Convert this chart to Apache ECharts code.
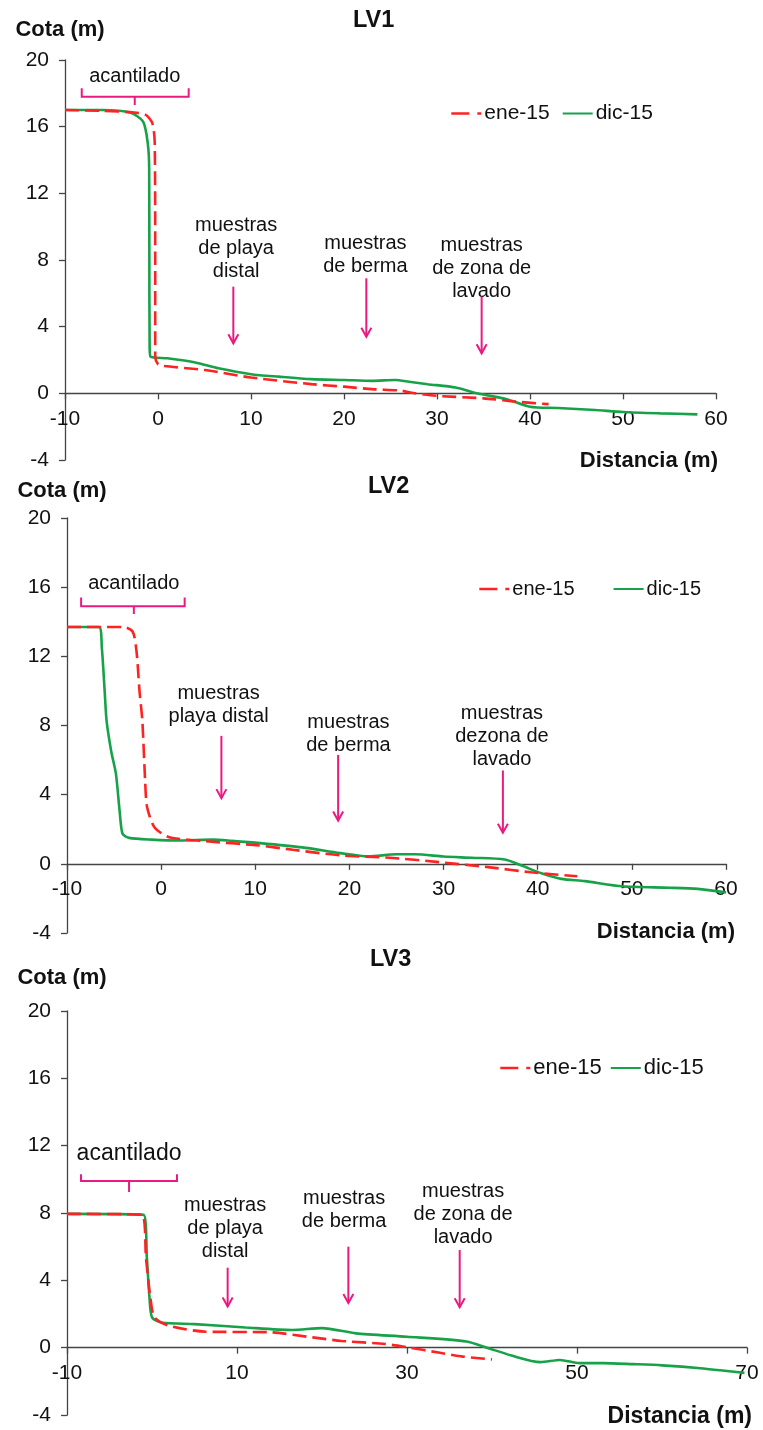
<!DOCTYPE html>
<html>
<head>
<meta charset="utf-8">
<script src="https://cdn.jsdelivr.net/npm/echarts@6/dist/echarts.min.js"></script>
<style>html,body{margin:0;padding:0;background:#fff;}#c{width:763px;height:1430px;}</style>
</head>
<body>
<div id="c"></div>
<script>
// ---------------- DATA ----------------
const seriesNames = ['ene-15', 'dic-15'];
const panelTitles = ['LV1', 'LV2', 'LV3'];
const xTicks = [[-10, 60, 10], [-10, 60, 10], [-10, 70, 20]];   // min, max, interval
const yTicks = [-4, 20, 4];

const lv1_ene = [[-10,17.0],[-6,16.95],[-2.6,16.85],[-1.3,16.7],[-0.6,16.2],[-0.35,15],[-0.3,8],[-0.3,2.2],[0,1.75],[0.5,1.65],[5,1.4],[10,0.95],[16.5,0.55],[20,0.4],[23,0.25],[26,0.17],[27.5,0.02],[30,-0.15],[35,-0.3],[38.5,-0.5],[42,-0.65]];
const lv1_dic = [[-10,17.0],[-6,17.0],[-3,16.85],[-1.6,16.3],[-1.1,15],[-0.95,13.5],[-0.93,8],[-0.9,2.8],[-0.8,2.2],[1,2.1],[4,1.85],[6.5,1.5],[10,1.15],[13,1.0],[16.5,0.85],[20,0.8],[23,0.75],[25.5,0.8],[27,0.7],[29,0.55],[32,0.35],[34.3,0],[37.5,-0.35],[40,-0.8],[43,-0.88],[47,-1.0],[50,-1.12],[54,-1.2],[58,-1.26]];

const lv2_ene = [[-10,13.7],[-4,13.7],[-3,13.4],[-2.6,12.2],[-2.3,10],[-2.0,8.3],[-1.7,4.8],[-1.5,3.3],[-0.7,2.1],[0.85,1.54],[4.7,1.31],[10.4,1.06],[14,0.81],[19.2,0.48],[24.3,0.35],[29.5,0.1],[34.7,-0.19],[39.3,-0.49],[44.2,-0.72]];
const lv2_dic = [[-10,13.7],[-6.6,13.7],[-6.3,12.5],[-6.0,10],[-5.8,8.3],[-5.3,6.5],[-4.8,5.2],[-4.4,3],[-4.1,1.74],[-3.4,1.5],[-1,1.4],[2,1.35],[5.5,1.4],[7.5,1.33],[10.5,1.2],[15,0.95],[19,0.62],[22,0.43],[25,0.55],[27,0.55],[30,0.42],[33,0.35],[36.5,0.25],[38.3,-0.1],[40.4,-0.55],[42.5,-0.87],[45,-1.0],[49,-1.3],[54,-1.38],[57,-1.45],[60,-1.65]];

const lv3_ene = [[-10,7.95],[-1.2,7.9],[-0.7,5.3],[-0.2,3],[0.3,1.8],[2,1.3],[6.3,0.95],[13.7,0.92],[18.9,0.61],[22.3,0.4],[27.4,0.22],[30.3,0],[33.7,-0.29],[36.6,-0.53],[40,-0.7]];
const lv3_dic = [[-10,7.95],[-1,7.9],[-0.6,5.3],[-0.3,3],[0,1.8],[1.1,1.5],[5,1.4],[11,1.2],[16.5,1.05],[20,1.16],[24,0.85],[30,0.65],[37,0.37],[39.4,0],[42.3,-0.47],[45.7,-0.86],[48,-0.73],[50.3,-0.92],[53,-0.92],[56.6,-0.98],[60,-1.05],[64.5,-1.22],[69.7,-1.5]];

const panelData = [[lv1_ene, lv1_dic], [lv2_ene, lv2_dic], [lv3_ene, lv3_dic]];

const annoTexts = [
  ['muestras\nde playa\ndistal', 'muestras\nde berma', 'muestras\nde zona de\nlavado'],
  ['muestras\nplaya distal', 'muestras\nde berma', 'muestras\ndezona de\nlavado'],
  ['muestras\nde playa\ndistal', 'muestras\nde berma', 'muestras\nde zona de\nlavado']
];
const cliffLabel = 'acantilado';

// ---------------- LAYOUT ----------------
const FONT = "'Liberation Sans', Arial, sans-serif";
const RED = '#ff2222', GREEN = '#17a24a', PINK = '#ea1a80', AXIS = '#444';
const grids = [
  {left: 65, top: 60, width: 651, height: 400, outerBoundsMode: 'none', containLabel: false},
  {left: 67, top: 518, width: 659, height: 415, outerBoundsMode: 'none', containLabel: false},
  {left: 67, top: 1011, width: 680, height: 404, outerBoundsMode: 'none', containLabel: false}
];
const titlePos = [{left: 353, top: 9}, {left: 368, top: 475}, {left: 370, top: 948}];
const yNameGap = [19, 16, 22];
const xNameGap = [2, 9, 5];
const xNameSize = [22, 22, 23];
const legendPos = [
  {left: 450, top: 103, gap: 12, size: 21},
  {left: 478, top: 579, gap: 38, size: 20},
  {left: 499, top: 1057, gap: 8, size: 22}
];
// annotation anchors in data coordinates: [textX, textY, arrowX, arrowTop, arrowBottom]
const annoPos = [
  [[8.4, 8.7, 8.1, 6.4, 3.0], [22.3, 8.3, 22.4, 6.9, 3.4], [34.8, 7.5, 34.8, 5.8, 2.4]],
  [[6.1, 9.2, 6.4, 7.4, 3.8], [19.9, 7.5, 18.8, 6.3, 2.5], [36.2, 7.35, 36.3, 5.4, 1.8]],
  [[8.6, 7.1, 8.9, 4.75, 2.45], [22.6, 8.2, 23.1, 6.0, 2.65], [36.6, 7.9, 36.2, 5.8, 2.4]]
];
// bracket: [x1, x2, xc, yLine, yEnds, yDown, textY, fontSize]
const bracketPos = [
  [-8.2, 3.3, -2.5, 17.8, 18.3, 17.3, 19.0, 20],
  [-8.5, 2.5, -2.9, 14.9, 15.4, 14.45, 16.2, 20],
  [-8.35, 2.94, -2.7, 9.9, 10.3, 9.25, 11.5, 23]
];

const chart = echarts.init(document.getElementById('c'), null, {renderer: 'canvas'});

const option = {
  backgroundColor: '#fff',
  animation: false,
  textStyle: {fontFamily: FONT, color: '#111'},
  title: panelTitles.map((t, i) => ({
    text: t, left: titlePos[i].left, top: titlePos[i].top, padding: 0,
    textStyle: {fontFamily: FONT, fontSize: 23.5, fontWeight: 'bold', color: '#111'}
  })),
  legend: legendPos.map((p, i) => ({
    data: [
      {name: seriesNames[0], lineStyle: {type: [18, 8], width: 2.6}},
      {name: seriesNames[1]}
    ],
    left: p.left, top: p.top, itemGap: p.gap, itemWidth: 30, itemHeight: 14,
    padding: 0, selectedMode: false,
    itemStyle: {opacity: 0},
    textStyle: {fontFamily: FONT, fontSize: p.size, color: '#111', padding: [0, 0, 0, -2]}
  })),
  grid: grids,
  xAxis: grids.map((g, i) => ({
    type: 'value', gridIndex: i, min: xTicks[i][0], max: xTicks[i][1], interval: xTicks[i][2],
    position: 'bottom',
    offset: -g.height * (0 - yTicks[0]) / (yTicks[1] - yTicks[0]),
    name: 'Distancia (m)', nameLocation: 'end', nameGap: xNameGap[i], nameMoveOverlap: false,
    nameTextStyle: {fontFamily: FONT, fontSize: xNameSize[i], fontWeight: 'bold', color: '#111',
      align: 'right', verticalAlign: 'top', lineHeight: xNameSize[i], padding: [57, 0, 0, 0]},
    axisLine: {onZero: false, lineStyle: {color: AXIS, width: 1.3}},
    axisTick: {length: 6, lineStyle: {color: AXIS, width: 1.3}},
    axisLabel: {fontFamily: FONT, fontSize: 21, color: '#111', margin: 15},
    splitLine: {show: false}
  })),
  yAxis: grids.map((g, i) => ({
    type: 'value', gridIndex: i, min: yTicks[0], max: yTicks[1], interval: yTicks[2],
    name: 'Cota (m)', nameLocation: 'end', nameGap: yNameGap[i], nameMoveOverlap: false,
    nameTextStyle: {fontFamily: FONT, fontSize: 22, fontWeight: 'bold', color: '#111', padding: [0, 10, 0, 0]},
    axisLine: {show: true, onZero: false, lineStyle: {color: AXIS, width: 1.3}},
    axisTick: {show: true, length: 6, lineStyle: {color: AXIS, width: 1.3}},
    axisLabel: {fontFamily: FONT, fontSize: 21, color: '#111', margin: 16},
    splitLine: {show: false}
  })),
  series: []
};

panelData.forEach((pair, i) => {
  option.series.push({
    name: seriesNames[0], type: 'line', xAxisIndex: i, yAxisIndex: i, data: pair[0],
    showSymbol: false, symbol: 'none', smooth: 0.25, z: 3,
    lineStyle: {color: RED, width: 2.6, type: [14, 6]}, itemStyle: {color: RED}
  });
  option.series.push({
    name: seriesNames[1], type: 'line', xAxisIndex: i, yAxisIndex: i, data: pair[1],
    showSymbol: false, symbol: 'none', smooth: 0.25, z: 2,
    lineStyle: {color: GREEN, width: 2.6}, itemStyle: {color: GREEN}
  });
});

chart.setOption(option);

// ---------------- ANNOTATIONS ----------------
function P(i, x, y) { return chart.convertToPixel({gridIndex: i}, [x, y]); }
const graphics = [];
for (let i = 0; i < 3; i++) {
  annoPos[i].forEach((a, k) => {
    const t = P(i, a[0], a[1]);
    graphics.push({type: 'text', x: t[0], y: t[1], z: 10, style: {
      text: annoTexts[i][k], fontFamily: FONT, fontSize: 20, lineHeight: 23, fill: '#111',
      align: 'center', verticalAlign: 'middle'}});
    const top = P(i, a[2], a[3]), bot = P(i, a[2], a[4]);
    graphics.push({type: 'line', z: 10, shape: {x1: top[0], y1: top[1], x2: bot[0], y2: bot[1]},
      style: {stroke: PINK, lineWidth: 2}});
    graphics.push({type: 'polyline', z: 10, shape: {points: [[bot[0] - 5, bot[1] - 9], [bot[0], bot[1]], [bot[0] + 5, bot[1] - 9]]},
      style: {stroke: PINK, lineWidth: 2, fill: null}});
  });
  const b = bracketPos[i];
  const l1 = P(i, b[0], b[3]), l2 = P(i, b[1], b[3]), e1 = P(i, b[0], b[4]), c = P(i, b[2], b[3]), cd = P(i, b[2], b[5]);
  graphics.push({type: 'polyline', z: 10, shape: {points: [[l1[0], e1[1]], [l1[0], l1[1]], [l2[0], l2[1]], [l2[0], e1[1]]]},
    style: {stroke: PINK, lineWidth: 2, fill: null}});
  graphics.push({type: 'line', z: 10, shape: {x1: c[0], y1: c[1], x2: cd[0], y2: cd[1]}, style: {stroke: PINK, lineWidth: 2}});
  const tc = P(i, b[2], b[6]);
  graphics.push({type: 'text', z: 10, x: tc[0], y: tc[1], style: {text: cliffLabel, fontFamily: FONT, fontSize: b[7],
    fill: '#111', align: 'center', verticalAlign: 'middle'}});
}
chart.setOption({graphic: graphics});
</script>
</body>
</html>
